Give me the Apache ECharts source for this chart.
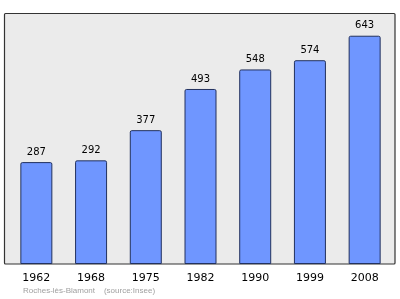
<!DOCTYPE html>
<html><head><meta charset="utf-8">
<script src="https://cdn.jsdelivr.net/npm/echarts@6/dist/echarts.min.js"></script>
<style>html,body{margin:0;padding:0;background:#fff}#c{width:400px;height:299px}</style>
</head><body><div id="c"></div>
<script>
const years = ["1962","1968","1975","1982","1990","1999","2008"];
const population = [287,292,377,493,548,574,643];
const footer = "Roches-lès-Blamont    (source:Insee)";

const chart = echarts.init(document.getElementById('c'), null, {renderer:'canvas'});
chart.setOption({
  animation:false,
  backgroundColor:'#ffffff',
  graphic:[
    {type:'rect', shape:{x:4.5,y:13.5,width:390.5,height:250.5,r:1},
     style:{fill:'#ebebeb',stroke:'#333333',lineWidth:1.2}, z:-10},
    {type:'text', left:23, top:287,
     style:{text:footer, fill:'#a0a0a0', font:'8px "Liberation Sans", sans-serif'}}
  ],
  grid:{left:9, right:8, top:13, bottom:35, containLabel:false},
  xAxis:{type:'category', data:years, boundaryGap:true,
    axisLine:{show:false}, axisTick:{show:false},
    axisLabel:{color:'#000', fontSize:11, fontFamily:'DejaVu Sans', margin:9}},
  yAxis:{type:'value', min:0, max:707, show:false, splitLine:{show:false}},
  series:[{type:'bar', data:population, barWidth:32,
    itemStyle:{color:'#6f96ff', borderColor:'#22315e', borderWidth:1, borderRadius:[1.5,1.5,0,0]},
    label:{show:true, position:'top', distance:5, color:'#000', fontSize:10, fontFamily:'DejaVu Sans'}}]
});
</script></body></html>
